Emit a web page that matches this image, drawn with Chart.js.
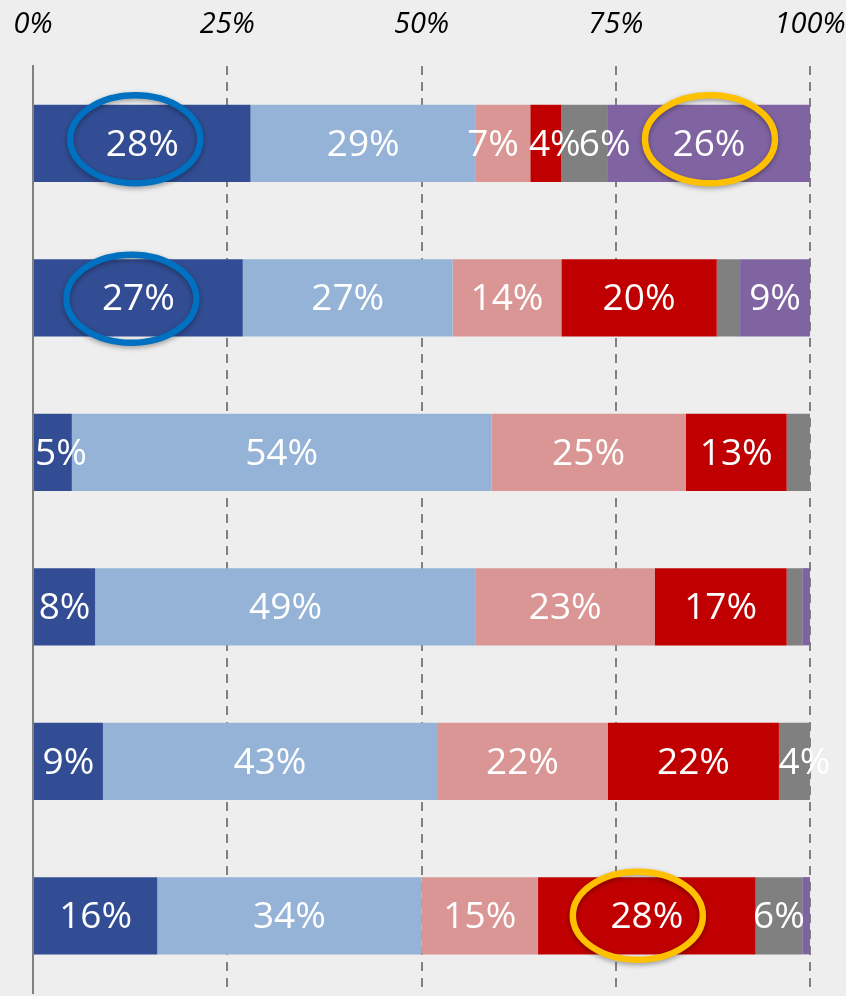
<!DOCTYPE html>
<html>
<head>
<meta charset="utf-8">
<script src="https://cdn.jsdelivr.net/npm/chart.js@4.4.1/dist/chart.umd.min.js"></script>
<style>
    html, body { margin: 0; padding: 0; background: #EEEEEE; overflow: hidden; }
    #wrap { width: 846px; height: 996px; position: relative; overflow: hidden; }
    #stack-chart { display: block; }
</style>
</head>
<body>
<div id="wrap"><canvas id="stack-chart"></canvas></div>
<script>
const rows = ['A', 'B', 'C', 'D', 'E', 'F'];

const series1 = [28, 27, 5, 8, 9, 16];
const series2 = [29, 27, 54, 49, 43, 34];
const series3 = [7, 14, 25, 23, 22, 15];
const series4 = [4, 20, 13, 17, 22, 28];
const series5 = [6, 3, 3, 2, 4, 6];
const series6 = [26, 9, 0, 1, 0, 1];

const tickValues = [0, 25, 50, 75, 100];

const chartColors = {
    'darkblue' : '#324D93',
    'lightblue': '#95B3D7',
    'pink'     : '#D99694',
    'red'      : '#C00000',
    'gray'     : '#808080',
    'purple'   : '#8064A2',
    'ringBlue' : '#0070C0',
    'ringGold' : '#FFC000'
};

// circled segments: row index, dataset index, ring colour, nudge
const highlights = [
    { row: 0, ds: 0, color: chartColors['ringBlue'], dx: -7, dy: -4 },
    { row: 1, ds: 0, color: chartColors['ringBlue'], dx: -7, dy: 1 },
    { row: 0, ds: 5, color: chartColors['ringGold'], dx: 1,  dy: -4 },
    { row: 5, ds: 3, color: chartColors['ringGold'], dx: -9, dy: 0 }
];

// labels moved sideways by hand in the original so they don't collide
const labelNudge = [
    { row: 0, ds: 2, dx: -10 },
    { row: 0, ds: 3, dx: 9 },
    { row: 0, ds: 4, dx: 20 },
    { row: 2, ds: 0, dx: 8 },
    { row: 4, ds: 4, dx: 10 }
];

function nudgeFor(row, ds) {
    const n = labelNudge.find(item => item.row === row && item.ds === ds);
    return n ? n.dx : 0;
}

const segmentLabels = {
    id: 'segmentLabels',
    afterDatasetsDraw(chart) {
        const ctx = chart.ctx;
        ctx.save();
        ctx.fillStyle = '#FFFFFF';
        ctx.font = '37px "Open Sans"';
        ctx.textAlign = 'center';
        ctx.textBaseline = 'middle';
        chart.data.datasets.forEach((ds, i) => {
            const meta = chart.getDatasetMeta(i);
            meta.data.forEach((bar, j) => {
                const v = ds.data[j];
                if (v < 4) return;
                ctx.fillText(v + '%', (bar.x + bar.base) / 2 + nudgeFor(j, i), bar.y + 2);
            });
        });
        ctx.restore();
    }
};

const rings = {
    id: 'rings',
    afterDraw(chart) {
        const ctx = chart.ctx;
        highlights.forEach(h => {
            const bar = chart.getDatasetMeta(h.ds).data[h.row];
            const cx = (bar.x + bar.base) / 2 + h.dx;
            const cy = bar.y + h.dy;
            ctx.save();
            ctx.shadowColor = 'rgba(0,0,0,0.35)';
            ctx.shadowBlur = 5;
            ctx.shadowOffsetY = 2;
            ctx.strokeStyle = h.color;
            ctx.lineWidth = 6.5;
            ctx.beginPath();
            ctx.ellipse(cx, cy, 65, 44, 0, 0, Math.PI * 2);
            ctx.stroke();
            ctx.restore();
        });
    }
};

function makeSet(label, data, color) {
    return {
        label: label,
        data: data,
        backgroundColor: color,
        borderWidth: 0,
        barPercentage: 0.5,
        categoryPercentage: 1.0
    };
}

new Chart(document.getElementById('stack-chart'), {
    type: 'bar',
    data: {
        labels: rows,
        datasets: [
            makeSet('1', series1, chartColors['darkblue']),
            makeSet('2', series2, chartColors['lightblue']),
            makeSet('3', series3, chartColors['pink']),
            makeSet('4', series4, chartColors['red']),
            makeSet('5', series5, chartColors['gray']),
            makeSet('6', series6, chartColors['purple'])
        ]
    },
    options: {
        indexAxis: 'y',
        responsive: true,
        maintainAspectRatio: false,
        animation: false,
        layout: { padding: { left: 33, right: 36, top: 0, bottom: 3 } },
        plugins: {
            legend: { display: false },
            tooltip: { enabled: false }
        },
        scales: {
            x: {
                position: 'top',
                stacked: true,
                min: 0,
                max: 100,
                afterBuildTicks: axis => {
                    axis.ticks = tickValues.map(v => ({ value: v }));
                },
                afterFit: axis => {
                    axis.height = 66;
                    axis.paddingLeft = 0;
                    axis.paddingRight = 0;
                },
                ticks: {
                    callback: v => v + '%',
                    color: '#000000',
                    padding: 24,
                    maxRotation: 0,
                    font: { family: '"Open Sans"', size: 29, style: 'italic' }
                },
                grid: {
                    drawTicks: false,
                    color: ctx => ctx.tick && ctx.tick.value === 0 ? 'rgba(0,0,0,0)' : '#808080',
                    lineWidth: 2
                },
                border: { display: false, dash: [9, 7] }
            },
            y: {
                stacked: true,
                afterFit: axis => {
                    axis.width = 0;
                    axis.paddingTop = 0;
                    axis.paddingBottom = 0;
                },
                ticks: { display: false },
                grid: { display: false, drawTicks: false },
                border: { display: true, color: '#808080', width: 2 }
            }
        }
    },
    plugins: [segmentLabels, rings]
});
</script>
</body>
</html>
